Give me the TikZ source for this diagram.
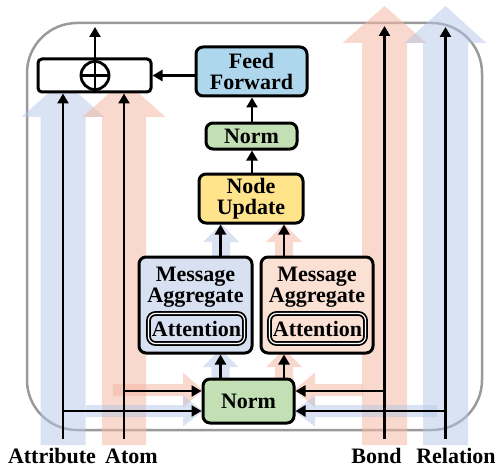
\documentclass[tikz,border=0pt]{standalone}
\usepackage{fontspec}
\setmainfont{Liberation Serif}
\usetikzlibrary{arrows.meta}
\definecolor{fatB}{HTML}{B4C7E7}
\definecolor{fatR}{HTML}{F4B8A4}
\definecolor{ffblue}{HTML}{AED6EC}
\definecolor{nmgreen}{HTML}{C3E0B4}
\definecolor{nuyellow}{HTML}{FFE48C}
\definecolor{malblue}{HTML}{D8E1F2}
\definecolor{marred}{HTML}{FBE0D4}
\definecolor{outergray}{HTML}{9A9A9A}
\newcommand\fatup[7]{\fill[#1] (#2-#6,#3) -- (#2-#6,#4) -- (#2-#7,#4) -- (#2,#5) -- (#2+#7,#4) -- (#2+#6,#4) -- (#2+#6,#3) -- cycle;}
\newcommand\fathor[7]{\fill[#1] (#3,#2-#6) -- (#4,#2-#6) -- (#4,#2-#7) -- (#5,#2) -- (#4,#2+#7) -- (#4,#2+#6) -- (#3,#2+#6) -- cycle;}
\tikzset{
  fatblue/.style={fill=fatB, fill opacity=0.5},
  fatred/.style={fill=fatR, fill opacity=0.55},
  txt/.style={font=\bfseries\fontsize{22}{20.5}\selectfont, align=center, inner sep=0pt},
  box/.style={draw, line width=3pt, rounded corners=7pt, inner sep=0pt},
  attbox/.style={draw, line width=1.8pt, double=white, double distance=1.2pt, rounded corners=7pt, minimum width=96pt, minimum height=30pt},
  conn/.style={line width=2.8pt, -{Triangle[length=10pt,width=11pt]}},
  plain/.style={line width=2.8pt},
}
\begin{document}
\begin{tikzpicture}[x=1pt,y=-1pt]
\useasboundingbox (0,0) rectangle (500,468);
% outer frame
\draw[outergray, line width=2.5pt, rounded corners=50pt] (27,23) rectangle (482,430);
% big fat arrows
\fatup{fatblue}{63}{445}{117}{80}{22.5}{41.5}
\fatup{fatred}{124}{445}{117}{80}{22}{41.5}
\fatup{fatred}{384.5}{445}{43}{6}{22.5}{42}
\fatup{fatblue}{445.5}{445}{43}{6}{22.5}{41}
% horizontal fat arrows
\fathor{fatred}{390}{113}{183}{203}{6}{17.5}
\fathor{fatblue}{411}{86}{183}{203}{6}{15.5}
\fathor{fatred}{390}{363}{315}{294}{6}{17.5}
\fathor{fatblue}{411}{437}{315}{294}{6}{15.5}
% small vertical fat arrows
\fatup{fatblue}{220.5}{379}{367}{349}{9}{18}
\fatup{fatred}{284}{379}{367}{349}{9}{18}
\fatup{fatblue}{221}{257}{242}{224}{9}{18}
\fatup{fatred}{284}{257}{242}{224}{9}{18}
% boxes
\node[box, fill=white, rounded corners=4pt, minimum width=113pt, minimum height=33pt] (plusbox) at (94.5,75.5) {};
\node[circle, draw, line width=2.8pt, minimum size=28pt, inner sep=0pt] (oplus) at (95,75.5) {};
\draw[plain] (oplus.north) -- (oplus.south);
\draw[plain] (oplus.west) -- (oplus.east);
\node[box, fill=ffblue, minimum width=111pt, minimum height=49pt] (ff) at (251.5,71.5) {};
\node[txt] at (ff.center) {Feed\\Forward};
\node[box, fill=nmgreen, minimum width=91pt, minimum height=26pt] (norm2) at (251.5,136) {};
\node[txt] at (norm2.center) {Norm};
\node[box, fill=nuyellow, minimum width=104pt, minimum height=49pt] (nu) at (251,198.5) {};
\node[txt] at (nu.center) {Node\\Update};
\node[box, fill=malblue, minimum width=113pt, minimum height=96pt] (mal) at (195.5,305) {};
\node[txt] at (195.5,287) {Message\\Aggregate};
\node[attbox, fill=malblue] (attl) at (196.5,328.5) {};
\node[txt] at (attl.center) {Attention};
\node[box, fill=marred, minimum width=112pt, minimum height=96pt] (mar) at (317,305) {};
\node[txt] at (317,287) {Message\\Aggregate};
\node[attbox, fill=marred] (attr) at (317.5,328.5) {};
\node[txt] at (attr.center) {Attention};
\node[box, fill=nmgreen, minimum width=91pt, minimum height=44pt] (norm1) at (248.5,401) {};
\node[txt] at (norm1.center) {Norm};
% input coordinates
\coordinate (attrB) at (63,439);
\coordinate (atomB) at (124,439);
\coordinate (bondB) at (384.5,439);
\coordinate (relB) at (445.5,439);
\coordinate (bondT) at (384.5,26);
\coordinate (relT) at (445.5,27);
\coordinate (outT) at (95,27);
\coordinate (atomJ) at (124,391);
\coordinate (attrJ) at (63,411);
\coordinate (bondJ) at (384.5,391);
\coordinate (relJ) at (445.5,411);
% black connectors
\draw[conn] (attrB) -- (attrB |- plusbox.south);
\draw[conn] (atomB) -- (atomB |- plusbox.south);
\draw[conn] (bondB) -- (bondT);
\draw[conn] (relB) -- (relT);
\draw[conn] (attrJ) -- (attrJ -| norm1.west);
\draw[conn] (atomJ) -- (atomJ -| norm1.west);
\draw[conn] (bondJ) -- (bondJ -| norm1.east);
\draw[conn] (relJ) -- (relJ -| norm1.east);
\draw[conn] (norm1.north -| 220.5,0) -- (mal.south -| 220.5,0);
\draw[conn] (norm1.north -| 284,0) -- (mar.south -| 284,0);
\draw[conn] (mal.north -| 220.5,0) -- (nu.south -| 220.5,0);
\draw[conn] (mar.north -| 284,0) -- (nu.south -| 284,0);
\draw[conn] (nu.north -| 252,0) -- (norm2.south -| 252,0);
\draw[conn] (norm2.north -| 252,0) -- (ff.south -| 252,0);
\draw[conn] (ff.west |- plusbox.east) -- (plusbox.east);
\draw[conn] (oplus.north) -- (outT);
% labels
\node[txt, anchor=base] (lattr) at (52,463.5) {Attribute};
\node[txt, anchor=base] (latom) at (131.5,463.5) {Atom};
\node[txt, anchor=base] (lbond) at (376.5,463.5) {Bond};
\node[txt, anchor=base] (lrel) at (456,463.5) {Relation};
\end{tikzpicture}
\end{document}
